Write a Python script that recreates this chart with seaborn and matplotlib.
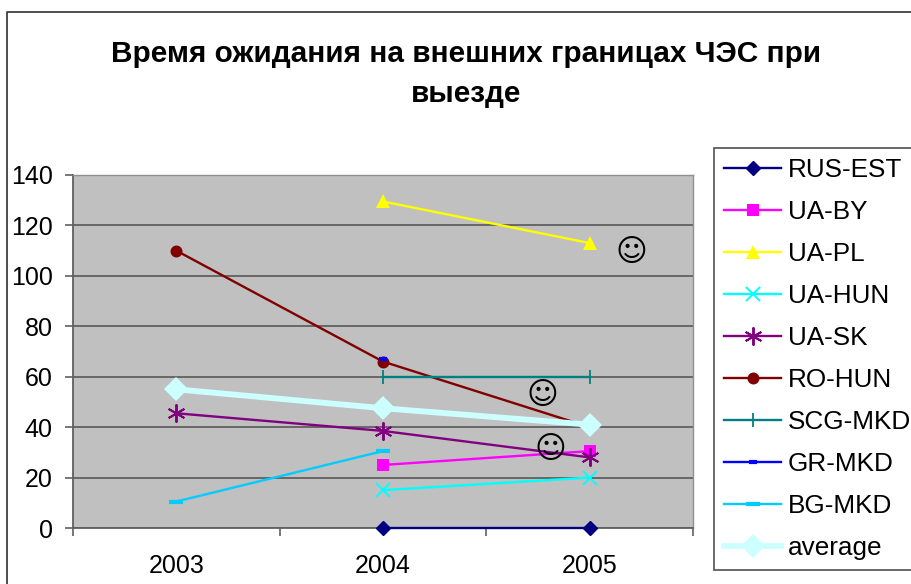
import numpy as np
import pandas as pd
import matplotlib
matplotlib.use("Agg")
import matplotlib.pyplot as plt
from matplotlib.lines import Line2D
import seaborn as sns

years = ["2003", "2004", "2005"]
rus_est = [np.nan, 0, 0]
ua_by = [np.nan, 25, 30.5]
ua_pl = [np.nan, 129.5, 113]
ua_hun = [np.nan, 15, 20]
ua_sk = [45.5, 38.5, 28]
ro_hun = [110, 66, 40]
scg_mkd = [np.nan, 60, 60]
gr_mkd = [np.nan, 67, np.nan]
bg_mkd = [10.5, 30.5, np.nan]
average = [55, 47.5, 41]
title = "Время ожидания на внешних границах ЧЭС при\nвыезде"
smiley = "\u263A"

series = [
    ("RUS-EST", rus_est, "#000080", "D", 7, 1.7, 1.0),
    ("UA-BY", ua_by, "#FF00FF", "s", 8.6, 1.7, 0),
    ("UA-PL", ua_pl, "#FFFF00", "^", 10, 1.7, 0),
    ("UA-HUN", ua_hun, "#00FFFF", "x", 9.4, 1.7, 1.4),
    ("UA-SK", ua_sk, "#800080", (6, 2, 0), 13, 1.7, 1.4),
    ("RO-HUN", ro_hun, "#800000", "o", 8.6, 1.7, 0),
    ("SCG-MKD", scg_mkd, "#008080", "|", 10, 1.7, 1.3),
    ("GR-MKD", gr_mkd, "#0000FF", "_", 6, 1.7, 3.0),
    ("BG-MKD", bg_mkd, "#00CCFF", "_", 10, 1.7, 3.0),
    ("average", average, "#CCFFFF", "D", 12, 4.2, 0),
]

W, H = 911, 584
plt.rcParams["font.family"] = ["Liberation Sans", "DejaVu Sans"]
fig = plt.figure(figsize=(W / 100, H / 100), dpi=100, facecolor="white")
ax = fig.add_axes([73 / W, 1 - 528 / H, 620 / W, 353 / H])
ax.set_facecolor("#C0C0C0")

x = np.arange(len(years))
handles = []
for name, vals, col, mk, ms, lw, mew in series:
    df = pd.DataFrame({"x": x, "y": vals}).dropna()
    sns.lineplot(data=df, x="x", y="y", ax=ax, color=col, linewidth=lw, marker=mk,
                 markersize=ms, markeredgecolor=col, markerfacecolor=col,
                 markeredgewidth=mew, errorbar=None, estimator=None, sort=False,
                 clip_on=False, legend=False, zorder=3)
    handles.append(Line2D([], [], color=col, linewidth=lw, marker=mk, markersize=ms,
                          markeredgecolor=col, markerfacecolor=col, markeredgewidth=mew,
                          label=name))

ax.set_xlim(-0.5, 2.5)
ax.set_ylim(0, 140)
ax.set_xticks([-0.5, 0.5, 1.5, 2.5])
ax.set_xticklabels([])
ax.set_xticks(x, minor=True)
ax.set_xticklabels(years, minor=True, fontsize=18)
ax.tick_params(axis="x", which="minor", length=0, pad=18.5)
ax.tick_params(axis="x", which="major", length=6, width=1.2, color="#606060")
ax.set_yticks(np.arange(0, 141, 20))
ax.tick_params(axis="y", labelsize=18, length=6, width=1.2, color="#606060", pad=8.5)
ax.grid(axis="y", color="#606060", linewidth=1.3)
ax.set_axisbelow(True)
ax.set_xlabel("")
ax.set_ylabel("")
for s in ["top", "right"]:
    ax.spines[s].set_color("#909090")
    ax.spines[s].set_linewidth(1)
for s in ["left", "bottom"]:
    ax.spines[s].set_color("#606060")
    ax.spines[s].set_linewidth(1.3)

fig.text(466 / W, 1 - 74 / H, title, ha="center", va="center", fontsize=21.4,
         fontweight="bold", linespacing=1.55)

for px, py in [(631, 252), (542, 395), (550, 449)]:
    fig.text(px / W, 1 - py / H, smiley, ha="center", va="center", fontsize=22,
             family=["DejaVu Sans"], zorder=10)

leg = ax.legend(handles=handles, loc="upper left",
                bbox_to_anchor=(714 / W, 1 - 148 / H), bbox_transform=fig.transFigure,
                fontsize=18.8, frameon=True, fancybox=False, edgecolor="#505050",
                framealpha=1, labelspacing=0.69, handlelength=2.2, handletextpad=0.25,
                borderpad=0.38, borderaxespad=0)
leg.get_frame().set_linewidth(1.2)
leg.set_clip_on(False)

fig.add_artist(Line2D([7 / W, 7 / W, 1], [0, 1 - 12 / H, 1 - 12 / H], color="#404040", linewidth=1.3))

fig.savefig("out.png", dpi=100)
